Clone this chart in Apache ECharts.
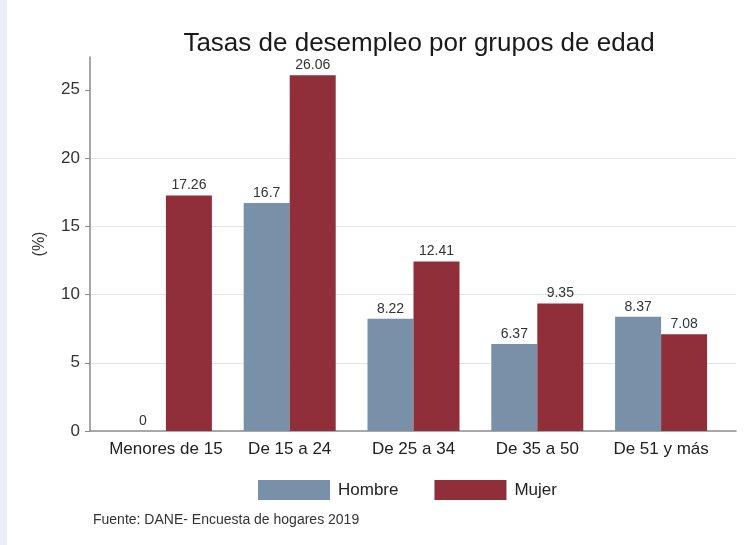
<!DOCTYPE html>
<html>
<head>
<meta charset="utf-8">
<script src="https://cdn.jsdelivr.net/npm/echarts@6/dist/echarts.min.js"></script>
<style>
  html, body { margin: 0; padding: 0; background: #fff; }
  #chart { width: 744px; height: 545px; }
</style>
</head>
<body>
<div id="chart"></div>
<script>
// datos
const grupos = ['Menores de 15', 'De 15 a 24', 'De 25 a 34', 'De 35 a 50', 'De 51 y más'];
const hombre = [0, 16.7, 8.22, 6.37, 8.37];
const mujer = [17.26, 26.06, 12.41, 9.35, 7.08];
const ticksY = [0, 5, 10, 15, 20, 25];

const fuente = 'Liberation Sans, Arial, sans-serif';
const yMax = 27.4;

let myChart = echarts.init(document.getElementById('chart'));

const option = {
  backgroundColor: '#fff',
  textStyle: { fontFamily: fuente },
  title: {
    text: 'Tasas de desempleo por grupos de edad',
    left: 414, top: 26, textAlign: 'center',
    textStyle: { fontSize: 26, fontWeight: 'normal', color: '#1a1a1a', fontFamily: fuente }
  },
  legend: {
    data: ['Hombre', 'Mujer'],
    left: 253, top: 475,
    itemWidth: 72, itemHeight: 20, itemGap: 36,
    icon: 'rect',
    textStyle: { fontSize: 17, color: '#222', padding: [0, 0, 0, 3] }
  },
  graphic: [
    // franja azul clara del borde izquierdo
    { type: 'rect', left: 0, top: 0, shape: { width: 7, height: 545 }, style: { fill: '#e9eef8' } },
    { type: 'text', left: 93, top: 513,
      style: { text: 'Fuente: DANE- Encuesta de hogares 2019', fontSize: 14, fill: '#333', fontFamily: fuente } }
  ],
  grid: [
    // rejilla ancha para los ejes
    { left: 90, right: 8, top: 57, bottom: 114 },
    // rejilla interior para las barras
    { left: 104, right: 21, top: 57, bottom: 114 }
  ],
  xAxis: [
    { gridIndex: 0, type: 'value', min: 0, max: 1,
      axisLine: { show: true, lineStyle: { color: '#8a8a8a', width: 1.5 } },
      axisTick: { show: false }, axisLabel: { show: false }, splitLine: { show: false } },
    { gridIndex: 1, type: 'category', data: grupos,
      axisLine: { show: false }, axisTick: { show: false },
      axisLabel: { fontSize: 17, color: '#222', margin: 10, interval: 0 } }
  ],
  yAxis: [
    { gridIndex: 0, type: 'value', min: 0, max: yMax, interval: 5,
      name: '(%)', nameLocation: 'middle', nameGap: 42, nameRotate: 90,
      nameTextStyle: { fontSize: 16, color: '#333' },
      axisLine: { show: true, lineStyle: { color: '#8a8a8a', width: 1.5 } },
      axisTick: { show: true, length: 5, lineStyle: { color: '#8a8a8a' }, customValues: ticksY },
      axisLabel: { fontSize: 17, color: '#333', margin: 10, customValues: ticksY },
      splitLine: { show: true, showMinLine: false, showMaxLine: false, lineStyle: { color: '#e4e4e4', width: 1 } } },
    { gridIndex: 1, type: 'value', min: 0, max: yMax, show: false }
  ],
  series: [
    { name: 'Hombre', type: 'bar', xAxisIndex: 1, yAxisIndex: 1, data: hombre,
      barWidth: 46, barGap: '0%',
      itemStyle: { color: '#7890a8' },
      label: { show: true, position: 'top', fontSize: 14, color: '#333', distance: 3 } },
    { name: 'Mujer', type: 'bar', xAxisIndex: 1, yAxisIndex: 1, data: mujer,
      barWidth: 46, barGap: '0%',
      itemStyle: { color: '#902f3a' },
      label: { show: true, position: 'top', fontSize: 14, color: '#333', distance: 3 } }
  ]
};

myChart.setOption(option);
</script>
</body>
</html>
